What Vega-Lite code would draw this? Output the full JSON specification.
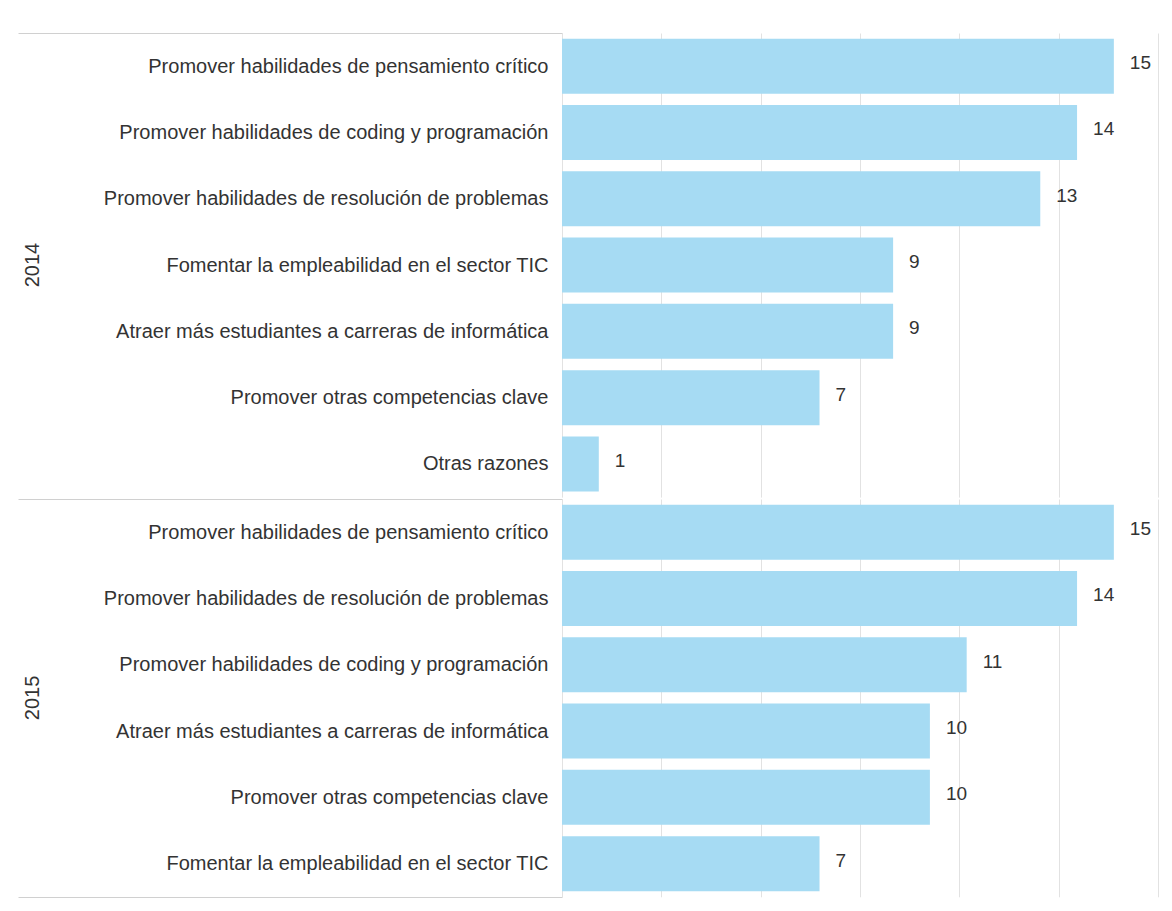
{
  "$schema": "https://vega.github.io/schema/vega-lite/v6.json",
  "padding": {"left": 17, "top": 32, "right": 5, "bottom": 5},
  "background": "white",
  "data": {"values": [
    {"year": "2014", "rank": 1, "reason": "Promover habilidades de pensamiento crítico", "value": 15},
    {"year": "2014", "rank": 2, "reason": "Promover habilidades de coding y programación", "value": 14},
    {"year": "2014", "rank": 3, "reason": "Promover habilidades de resolución de problemas", "value": 13},
    {"year": "2014", "rank": 4, "reason": "Fomentar la empleabilidad en el sector TIC", "value": 9},
    {"year": "2014", "rank": 5, "reason": "Atraer más estudiantes a carreras de informática", "value": 9},
    {"year": "2014", "rank": 6, "reason": "Promover otras competencias clave", "value": 7},
    {"year": "2014", "rank": 7, "reason": "Otras razones", "value": 1},
    {"year": "2015", "rank": 1, "reason": "Promover habilidades de pensamiento crítico", "value": 15},
    {"year": "2015", "rank": 2, "reason": "Promover habilidades de resolución de problemas", "value": 14},
    {"year": "2015", "rank": 3, "reason": "Promover habilidades de coding y programación", "value": 11},
    {"year": "2015", "rank": 4, "reason": "Atraer más estudiantes a carreras de informática", "value": 10},
    {"year": "2015", "rank": 5, "reason": "Promover otras competencias clave", "value": 10},
    {"year": "2015", "rank": 6, "reason": "Fomentar la empleabilidad en el sector TIC", "value": 7}
  ]},
  "facet": {
    "row": {
      "field": "year", "type": "nominal", "title": null,
      "header": {
        "labelAngle": -90, "labelOrient": "left", "labelPadding": -36,
        "labelFont": "Liberation Sans", "labelFontSize": 20, "labelColor": "#333333",
        "labelExpr": "datum.value == '2015' ? '2015' + '\u2003\u2003\u2003\u2003\u2003' : datum.value"
      }
    }
  },
  "spacing": {"row": 0},
  "resolve": {"scale": {"y": "independent"}},
  "spec": {
    "width": 596,
    "height": {"step": 66.3},
    "layer": [
      {
        "mark": {"type": "bar", "color": "#a6dbf3"},
        "encoding": {
          "y": {
            "field": "reason", "type": "nominal",
            "sort": {"field": "rank", "op": "min"},
            "scale": {"paddingInner": 0.17, "paddingOuter": 0.085},
            "axis": {
              "title": null, "orient": "left", "domain": false, "bandPosition": 0, "tickExtra": false, "tickSize": 544, "tickOffset": -5.6,
              "labelPadding": -530, "labelOffset": 5.6, "labelFont": "Liberation Sans", "labelFontSize": 20,
              "labelColor": "#333333", "labelLimit": 600,
              "tickColor": {"condition": {"test": "datum.value === 'Promover habilidades de pensamiento crítico'", "value": "#d0d0d0"}, "value": "transparent"}
            }
          },
          "x": {
            "field": "value", "type": "quantitative",
            "scale": {"domain": [0, 16.2], "nice": false},
            "axis": {"title": null, "labels": false, "ticks": false, "domain": false,
                     "values": [0, 2.7, 5.4, 8.1, 10.8, 13.5, 16.2], "gridColor": "#e2e2e2"}
          }
        }
      },
      {
        "mark": {"type": "text", "align": "left", "baseline": "middle", "dx": 16, "dy": -3, "font": "Liberation Sans", "fontSize": 19, "color": "#333333"},
        "encoding": {
          "y": {
            "field": "reason", "type": "nominal",
            "sort": {"field": "rank", "op": "min"},
            "axis": {
              "title": null, "orient": "left", "domain": false, "labels": false, "grid": false, "bandPosition": 1, "tickExtra": false,
              "tickSize": 544, "tickOffset": 5.6,
              "tickColor": {"condition": {"test": "datum.index === 1 && datum.value === 'Fomentar la empleabilidad en el sector TIC'", "value": "#d0d0d0"}, "value": "transparent"}
            }
          },
          "x": {"field": "value", "type": "quantitative"},
          "text": {"field": "value", "type": "quantitative"}
        }
      }
    ],
    "resolve": {"axis": {"y": "independent"}}
  },
  "config": {"view": {"stroke": null}}
}
